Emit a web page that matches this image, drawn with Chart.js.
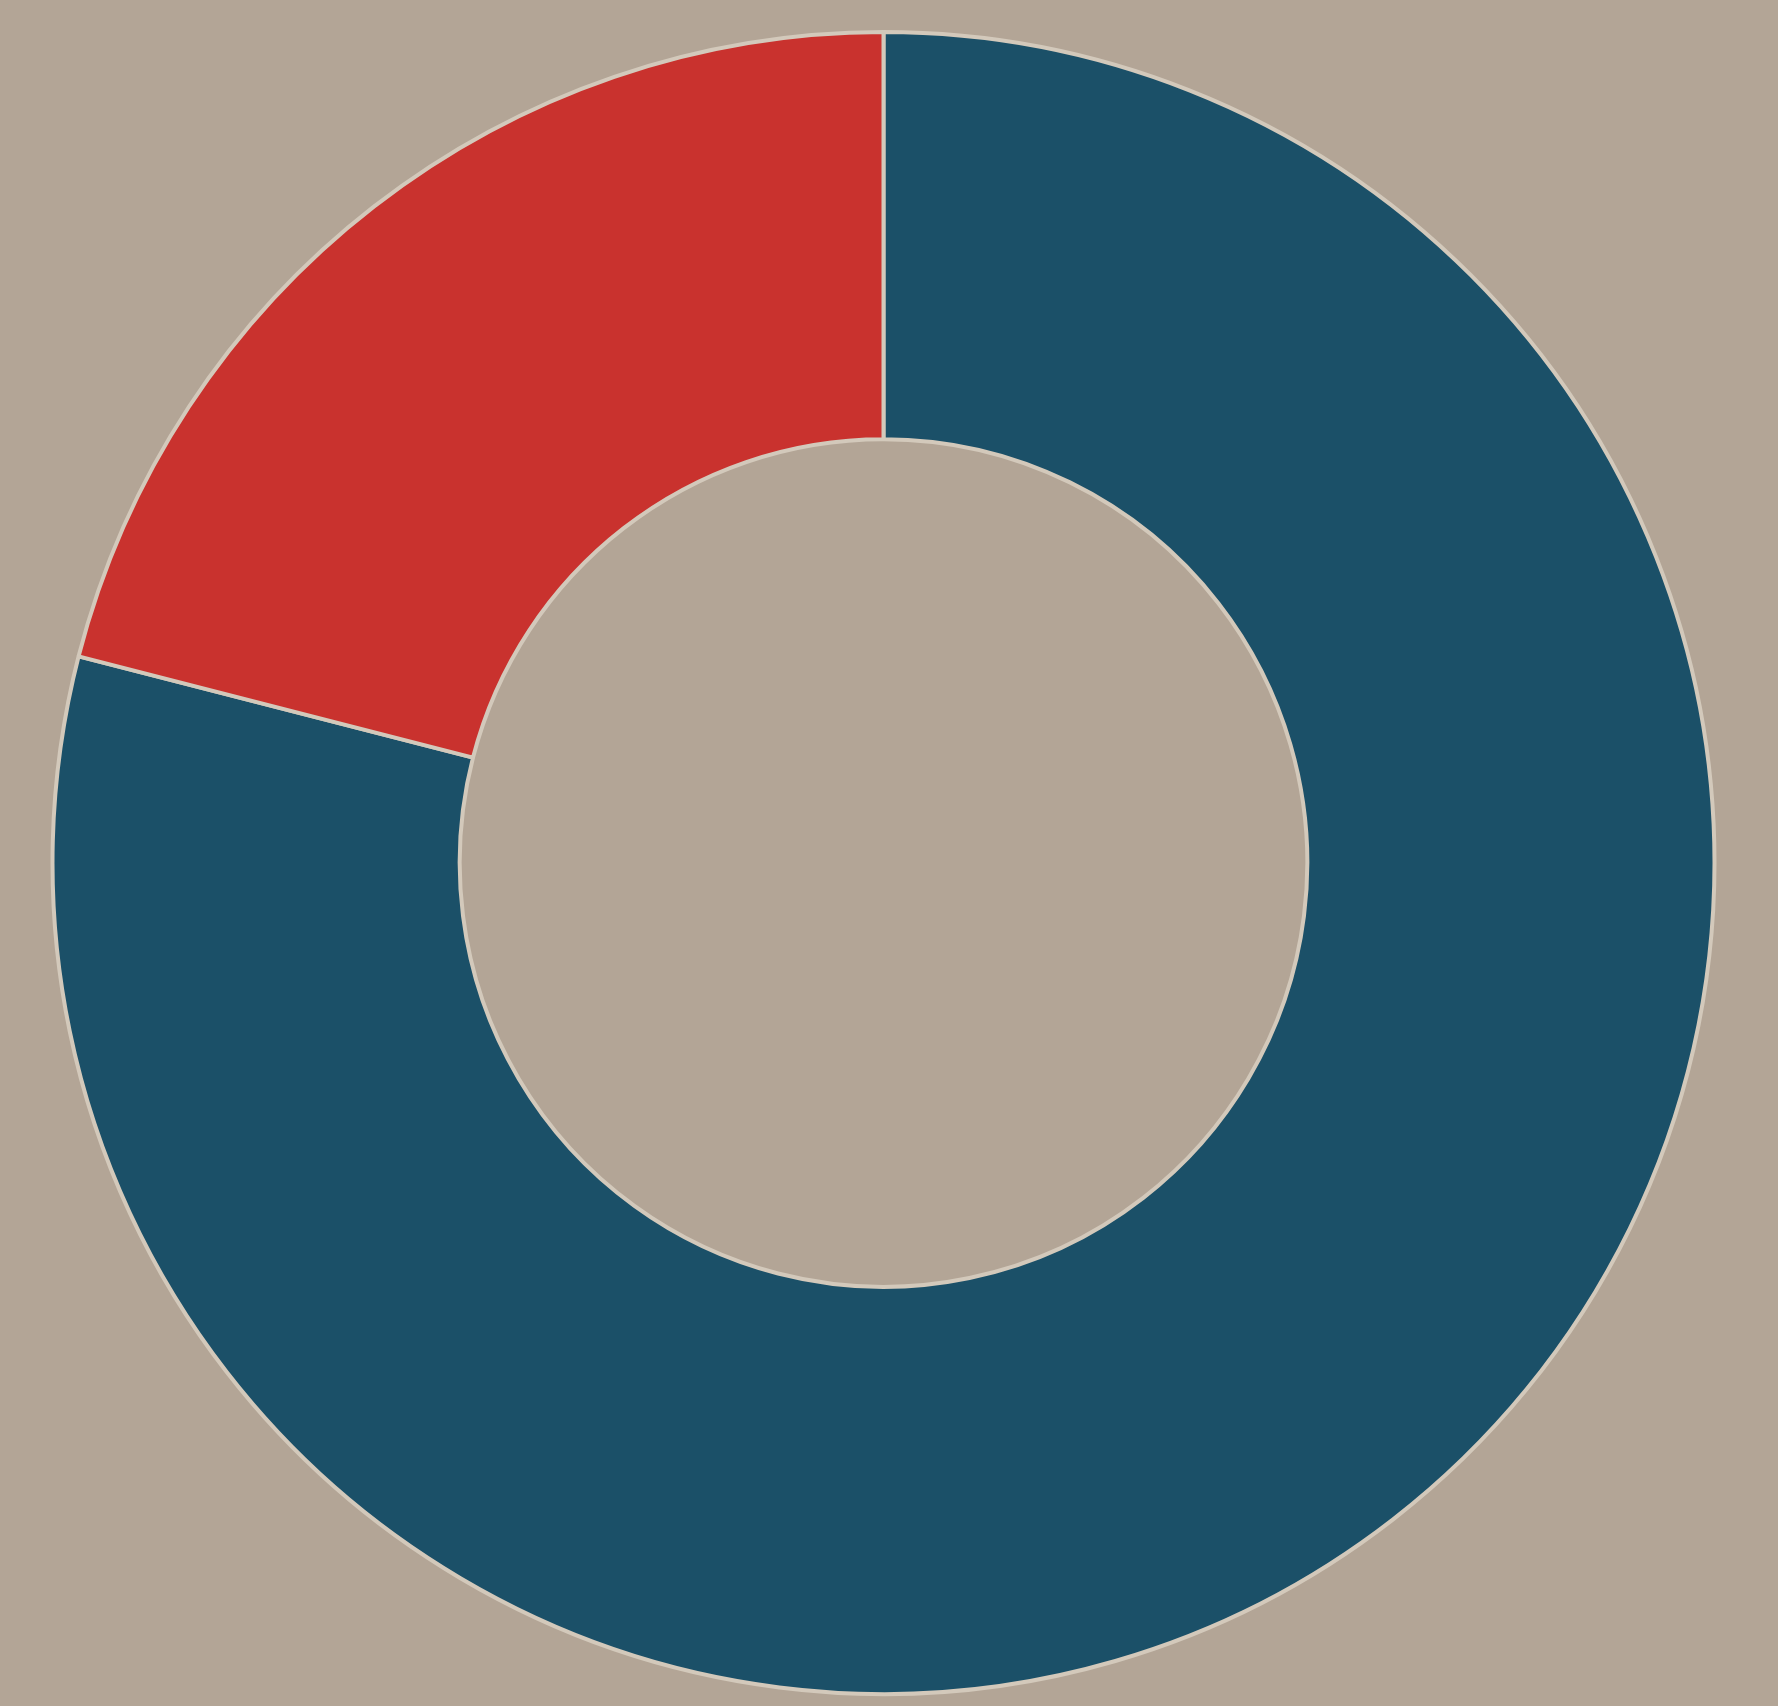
<!DOCTYPE html>
<html>
<head>
<meta charset="utf-8">
<script src="https://cdn.jsdelivr.net/npm/chart.js@4/dist/chart.umd.min.js"></script>
<style>
  html, body { margin: 0; padding: 0; background: #b3a596; }
  #wrap { width: 1778px; height: 1706px; }
</style>
</head>
<body>
<div id="wrap"><canvas id="donut"></canvas></div>
<script>
var labels = ['Blue', 'Red'];
var values = [79, 21];
var colors = ['#1b5068', '#c9322e'];

var donut = new Chart(document.getElementById('donut'), {
    type: 'doughnut',
    data: {
        labels: labels,
        datasets: [
            {
                data: values,
                backgroundColor: colors,
                borderColor: '#d3c9bb',
                borderWidth: 4
            }
        ]
    },
    options: {
        responsive: true,
        maintainAspectRatio: false,
        animation: false,
        cutout: '51%',
        layout: {
            padding: { left: 50, right: 61, top: 30, bottom: 10 }
        },
        plugins: {
            legend: { display: false },
            tooltip: { enabled: false }
        }
    }
});
</script>
</body>
</html>
